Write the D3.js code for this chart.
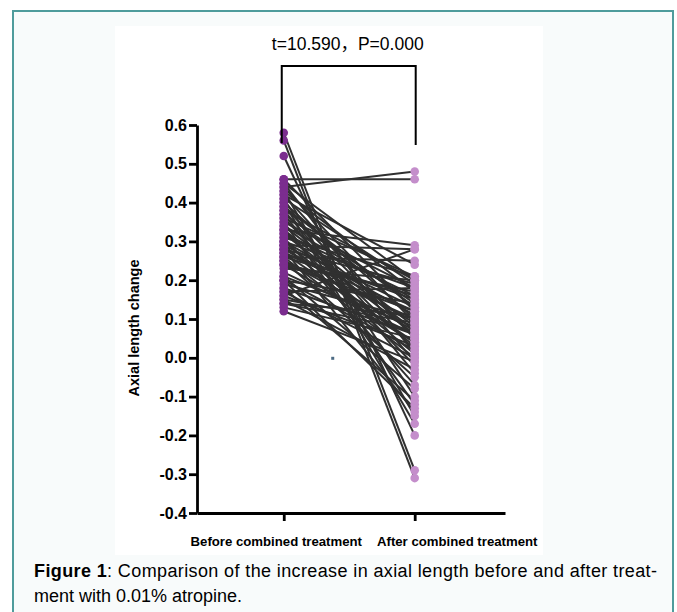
<!DOCTYPE html>
<html>
<head>
<meta charset="utf-8">
<script src="https://cdn.jsdelivr.net/npm/d3@7"></script>
<style>
  body { margin: 0; background: #fff; }
  svg { display: block; font-family: "Liberation Sans", Arial, sans-serif; }
</style>
</head>
<body>
<svg id="chart" width="677" height="612"></svg>
<script>
// group names and the paired values (before / after, same order)
var groups = ["Before combined treatment", "After combined treatment"];
var yTicks = [0.6, 0.5, 0.4, 0.3, 0.2, 0.1, 0.0, -0.1, -0.2, -0.3, -0.4];
var before = [0.58, 0.56, 0.52, 0.46, 0.46, 0.45, 0.44, 0.43, 0.42, 0.41,
  0.40, 0.40, 0.39, 0.38, 0.37, 0.37, 0.36, 0.35, 0.35, 0.34,
  0.33, 0.33, 0.32, 0.32, 0.31, 0.31, 0.30, 0.30, 0.29, 0.29,
  0.28, 0.28, 0.28, 0.27, 0.27, 0.26, 0.26, 0.25, 0.25, 0.24,
  0.24, 0.21, 0.21, 0.20, 0.20, 0.19, 0.18, 0.18, 0.17, 0.16,
  0.16, 0.15, 0.15, 0.14, 0.13, 0.12,
  0.45, 0.44, 0.43, 0.42, 0.41, 0.39, 0.38, 0.36, 0.34, 0.33,
  0.30, 0.29, 0.27, 0.26, 0.25, 0.24, 0.23, 0.22, 0.20, 0.17, 0.14];
var after = [-0.29, -0.31, -0.20, 0.46, 0.12, 0.01, 0.48, -0.15, 0.24, -0.10,
  0.10, -0.17, 0.05, 0.20, -0.04, 0.14, 0.02, 0.18, -0.12, 0.08,
  0.29, -0.02, 0.16, 0.06, -0.07, 0.21, 0.11, 0.03, 0.28, 0.13,
  0.09, -0.14, 0.19, 0.04, 0.15, 0.00, 0.25, 0.07, -0.05, 0.12,
  0.17, 0.08, -0.08, 0.14, 0.02, 0.10, -0.11, 0.06, 0.18, 0.03,
  0.28, 0.09, -0.03, 0.11, 0.05, -0.01,
  0.20, 0.09, 0.17, 0.05, 0.19, 0.13, -0.01, 0.21, 0.15, 0.07,
  0.18, 0.01, 0.12, 0.16, 0.10, 0.04, 0.20, 0.06, -0.13, 0.00, 0.07];
var statA = "t=10.590", statComma = "\uFF0C", statB = "P=0.000";
var yLabel = "Axial length change";

var svg = d3.select("#chart");

// outer panel with teal border
svg.append("rect")
  .attr("x", 13).attr("y", 11).attr("width", 660).attr("height", 620)
  .attr("fill", "#f8fbfb").attr("stroke", "#4f9c9c").attr("stroke-width", 2);
// white figure area
svg.append("rect")
  .attr("x", 115).attr("y", 26).attr("width", 428).attr("height", 529)
  .attr("fill", "#fff");

var y = d3.scaleLinear().domain([-0.4, 0.6]).range([513, 125]);
var x = d3.scalePoint().domain(groups).range([197, 505]).padding(0.676).align(0.49);

var fmt = function (d) { return d3.format(".1f")(d).replace("\u2212", "-"); };

// y axis
var gy = svg.append("g")
  .attr("transform", "translate(197,0)")
  .call(d3.axisLeft(y).tickValues(yTicks).tickFormat(fmt).tickSize(8).tickSizeOuter(0).tickPadding(2));
gy.select(".domain").attr("stroke-width", 2.8).attr("stroke", "#000");
gy.selectAll(".tick line").attr("stroke-width", 2.8).attr("stroke", "#000");
gy.selectAll(".tick text")
  .attr("font-size", 16).attr("font-weight", "bold").attr("fill", "#000")
  .attr("font-family", "Liberation Sans, Arial, sans-serif");

// x axis
var gx = svg.append("g")
  .attr("transform", "translate(0,513)")
  .call(d3.axisBottom(x).tickSize(8).tickSizeOuter(0).tickPadding(16));
gx.select(".domain").attr("stroke-width", 2.8).attr("stroke", "#000");
gx.selectAll(".tick line").attr("stroke-width", 2.8).attr("stroke", "#000");
gx.selectAll(".tick text")
  .attr("font-size", 13.2).attr("font-weight", "bold").attr("fill", "#000")
  .attr("font-family", "Liberation Sans, Arial, sans-serif")
  .attr("dx", function (d, i) { return i == 0 ? -8 : 42; });

// y axis title
svg.append("text")
  .attr("transform", "translate(139,328) rotate(-90)")
  .attr("text-anchor", "middle")
  .attr("font-size", 14.5).attr("font-weight", "bold")
  .text(yLabel);

// paired lines
var pairs = before.map(function (b, i) { return { b: b, a: after[i] }; });
svg.append("g").selectAll("line")
  .data(pairs)
  .enter()
  .append("line")
  .attr("x1", x(groups[0])).attr("y1", function (d) { return y(d.b); })
  .attr("x2", x(groups[1])).attr("y2", function (d) { return y(d.a); })
  .attr("stroke", "#303030").attr("stroke-width", 2);

// points
svg.append("g").selectAll("circle")
  .data(before)
  .enter()
  .append("circle")
  .attr("cx", x(groups[0])).attr("cy", function (d) { return y(d); })
  .attr("r", 4.3).attr("fill", "#7b2d8f");
svg.append("g").selectAll("circle")
  .data(after)
  .enter()
  .append("circle")
  .attr("cx", x(groups[1])).attr("cy", function (d) { return y(d); })
  .attr("r", 4.3).attr("fill", "#c48ecb");

// significance bracket
var bx0 = x(groups[0]) - 2, bx1 = x(groups[1]) + 1;
svg.append("path")
  .attr("d", "M" + bx0 + "," + (y(0.6) + 18) + "V" + (y(0.6) - 59) + "H" + bx1 + "V" + (y(0.6) + 20))
  .attr("fill", "none").attr("stroke", "#000").attr("stroke-width", 2);
var st = svg.append("text")
  .attr("x", (bx0 + bx1) / 2 - 1).attr("y", 50)
  .attr("text-anchor", "middle").attr("font-size", 17.5);
st.append("tspan").text(statA);
st.append("tspan").attr("font-family", "Noto Sans CJK SC").text(statComma);
st.append("tspan").text(statB);

// small stray mark in the source image
svg.append("rect")
  .attr("x", (x(groups[0]) + x(groups[1])) / 2 - 18).attr("y", y(0) - 1)
  .attr("width", 3).attr("height", 3).attr("fill", "#4d6b84");

// caption
var cap1 = svg.append("text")
  .attr("x", 34).attr("y", 577).attr("font-size", 18)
  .attr("textLength", 623).attr("lengthAdjust", "spacing");
cap1.append("tspan").attr("font-weight", "bold").text("Figure 1");
cap1.append("tspan").text(": Comparison of the increase in axial length before and after treat-");
svg.append("text")
  .attr("x", 34).attr("y", 602).attr("font-size", 18)
  .text("ment with 0.01% atropine.");
</script>
</body>
</html>
